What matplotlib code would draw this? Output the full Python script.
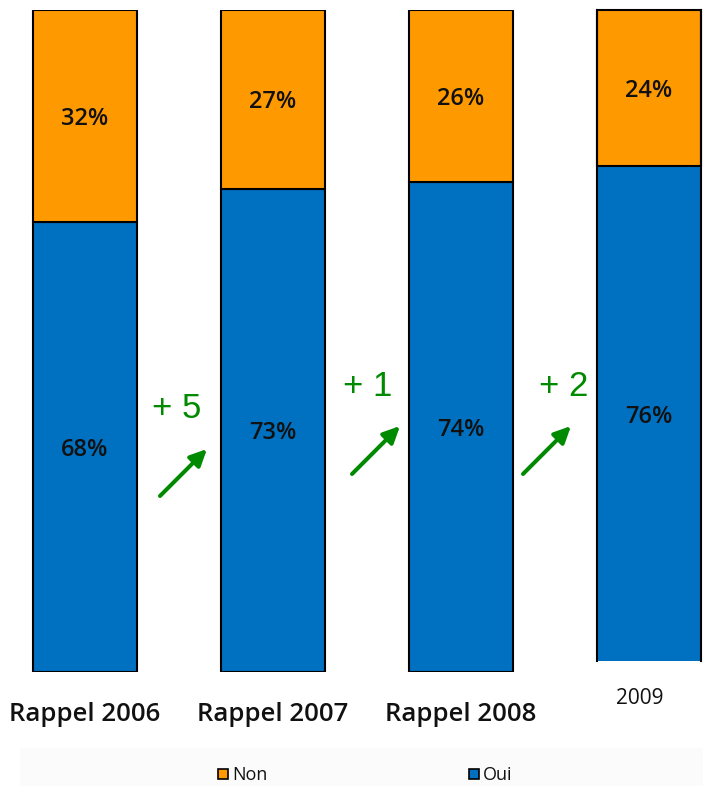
import matplotlib
matplotlib.use("Agg")
import matplotlib.pyplot as plt
from matplotlib.patches import FancyArrowPatch, Rectangle
from matplotlib.transforms import offset_copy

categories = ["Rappel 2006", "Rappel 2007", "Rappel 2008", "2009"]
oui = [68, 73, 74, 76]
non = [32, 27, 26, 24]
deltas = ["+ 5", "+ 1", "+ 2"]

ORANGE = "#FF9900"
BLUE = "#0070C0"
GREEN = "#008A00"

W, H = 703, 786
fig = plt.figure(figsize=(W / 100, H / 100), dpi=100)

def fx(px):
    return px / W

def fy(py):
    return 1 - py / H

# light background band for the legend
fig.patches.append(Rectangle((fx(20), 0), 1 - fx(20), fy(748), transform=fig.transFigure,
                             facecolor="#FBFBFB", edgecolor="none", zorder=0))

# axes for the first three bars
ax1 = fig.add_axes([0, fy(672), 1, (672 - 10) / H])
ax1.set_xlim(-84.5 / 188, (703 - 84.5) / 188)
ax1.set_ylim(0, 100)
ax1.axis("off")
xs = list(range(3))
ax1.bar(xs, oui[:3], width=104 / 188, color=BLUE, edgecolor="black", linewidth=1.5)
ax1.bar(xs, non[:3], bottom=oui[:3], width=104 / 188, color=ORANGE, edgecolor="black", linewidth=1.5)

# axis for the last bar (slightly shorter)
ax2 = fig.add_axes([fx(597), fy(661), 104 / W, (661 - 10) / H])
ax2.set_xlim(-0.5, 0.5)
ax2.set_ylim(0, 100)
ax2.axis("off")
ax2.bar([0], [oui[3]], width=1, color=BLUE, edgecolor="none", clip_on=False)
ax2.bar([0], [non[3]], bottom=[oui[3]], width=1, color=ORANGE, edgecolor="black", linewidth=1.5, clip_on=False)
ax2.plot([-0.5, -0.5], [0, 100], color="black", lw=1.5, clip_on=False)
ax2.plot([0.5, 0.5], [0, 100], color="black", lw=1.5, clip_on=False)

lab_kw = dict(ha="center", va="center", fontsize=17, color="#111111", fontweight="semibold",
              family="Open Sans")
t1 = offset_copy(ax1.transData, fig=fig, x=0, y=-3, units="dots")
t2 = offset_copy(ax2.transData, fig=fig, x=0, y=-3, units="dots")
for i in range(3):
    ax1.text(i, oui[i] / 2, f"{oui[i]}%", transform=t1, **lab_kw)
    ax1.text(i, oui[i] + non[i] / 2, f"{non[i]}%", transform=t1, **lab_kw)
ax2.text(0, oui[3] / 2, f"{oui[3]}%", transform=t2, **lab_kw)
ax2.text(0, oui[3] + non[3] / 2, f"{non[3]}%", transform=t2, **lab_kw)

# category labels
for i in range(3):
    ax1.text(i, -6.4, categories[i], ha="center", va="center", fontsize=18.5, color="#111111",
             family="Open Sans", fontweight="semibold", transform=ax1.transData, clip_on=False)
fig.text(fx(640), fy(699), categories[3], ha="center", va="center", fontsize=15, color="#111111",
         family="Open Sans")

# green deltas and arrows
delta_pos = [(177, 409), (368, 387), (564, 387)]
arrow_pos = [((160, 496), (207, 449)), ((352, 474), (400, 426)), ((523, 474), (571, 426))]
for d, (tx, ty), (p0, p1) in zip(deltas, delta_pos, arrow_pos):
    fig.text(fx(tx), fy(ty), d, ha="center", va="center", fontsize=25, color=GREEN,
             family="Liberation Sans")
    arr = FancyArrowPatch((fx(p0[0]), fy(p0[1])), (fx(p1[0]), fy(p1[1])),
                          transform=fig.transFigure, arrowstyle="-|>,head_length=10,head_width=4.8",
                          color=GREEN, lw=2.9, mutation_scale=1, shrinkA=0, shrinkB=0)
    fig.patches.append(arr)

# legend
legend_items = [("Non", ORANGE, 218), ("Oui", BLUE, 469)]
for name, col, x0 in legend_items:
    fig.patches.append(Rectangle((fx(x0), fy(779)), fx(10), 10 / H, transform=fig.transFigure,
                                 facecolor=col, edgecolor="black", lw=1.2))
    fig.text(fx(x0 + 14), fy(775), name, ha="left", va="center", fontsize=13, color="#111111",
             family="Open Sans")

fig.savefig("out.png", dpi=100, facecolor="white")
